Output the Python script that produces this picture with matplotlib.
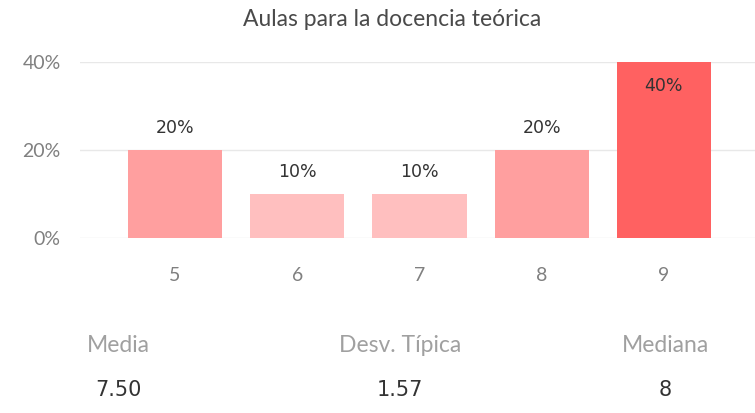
import matplotlib
matplotlib.use("Agg")
import matplotlib.pyplot as plt

# --- data ---
categories = ["5", "6", "7", "8", "9"]
shares = [20, 10, 10, 20, 40]
bar_colors = ["#FF9F9F", "#FFBFBF", "#FFBFBF", "#FF9F9F", "#FF6161"]
yticks = [0, 20, 40]

stat_names = ["Media", "Desv. Típica", "Mediana"]
stat_values = ["7.50", "1.57", "8"]
stat_x = [118, 400, 665]  # pixel centres of the cards

W, H = 755, 413
fig = plt.figure(figsize=(W / 100, H / 100), dpi=100)
plt.rcParams["font.family"] = ["Lato", "DejaVu Sans"]

# axes placed in pixel units so gridlines line up with the reference
left, right, top, bottom = 80, 755, 62, 238
ax = fig.add_axes([left / W, (H - bottom) / H, (right - left) / W, (bottom - top) / H])

x = range(len(categories))
bars = ax.bar(x, shares, width=0.77, color=bar_colors, zorder=3)

ax.set_xlim(-0.777, 4.745)
ax.set_ylim(0, 40)
ax.set_yticks(yticks)
ax.set_yticklabels([f"{v}%" for v in yticks])
ax.set_xticks(list(x))
ax.set_xticklabels(categories)
ax.grid(axis="y", color="#E8E8E8", linewidth=1, zorder=0)
for s in ax.spines.values():
    s.set_visible(False)
ax.tick_params(axis="both", length=0, colors="#808080", labelsize=14)
ax.tick_params(axis="x", pad=21)
ax.tick_params(axis="y", pad=14)

# value labels: above the bar, or inside when the bar reaches the top
for i, v in enumerate(shares):
    if v >= 40:
        ax.text(i, v - 5.5, f"{v}%", ha="center", va="center",
                fontsize=12.5, color="#333333", fontfamily=["DejaVu Sans"])
    else:
        ax.text(i, v + 5, f"{v}%", ha="center", va="center",
                fontsize=12.5, color="#333333", fontfamily=["DejaVu Sans"])

fig.text(392 / W, 1 - 20 / H, "Aulas para la docencia teórica",
         ha="center", va="center", fontsize=16.5, color="#4A4A4A")

for name, val, px in zip(stat_names, stat_values, stat_x):
    fig.text(px / W, 1 - 345 / H, name, ha="center", va="center",
             fontsize=16.5, color="#A0A0A0")
    fig.text(px / W, 1 - 390 / H, val, ha="center", va="center",
             fontsize=15, color="#333333", fontfamily=["DejaVu Sans"])

fig.savefig("out.png", dpi=100)
